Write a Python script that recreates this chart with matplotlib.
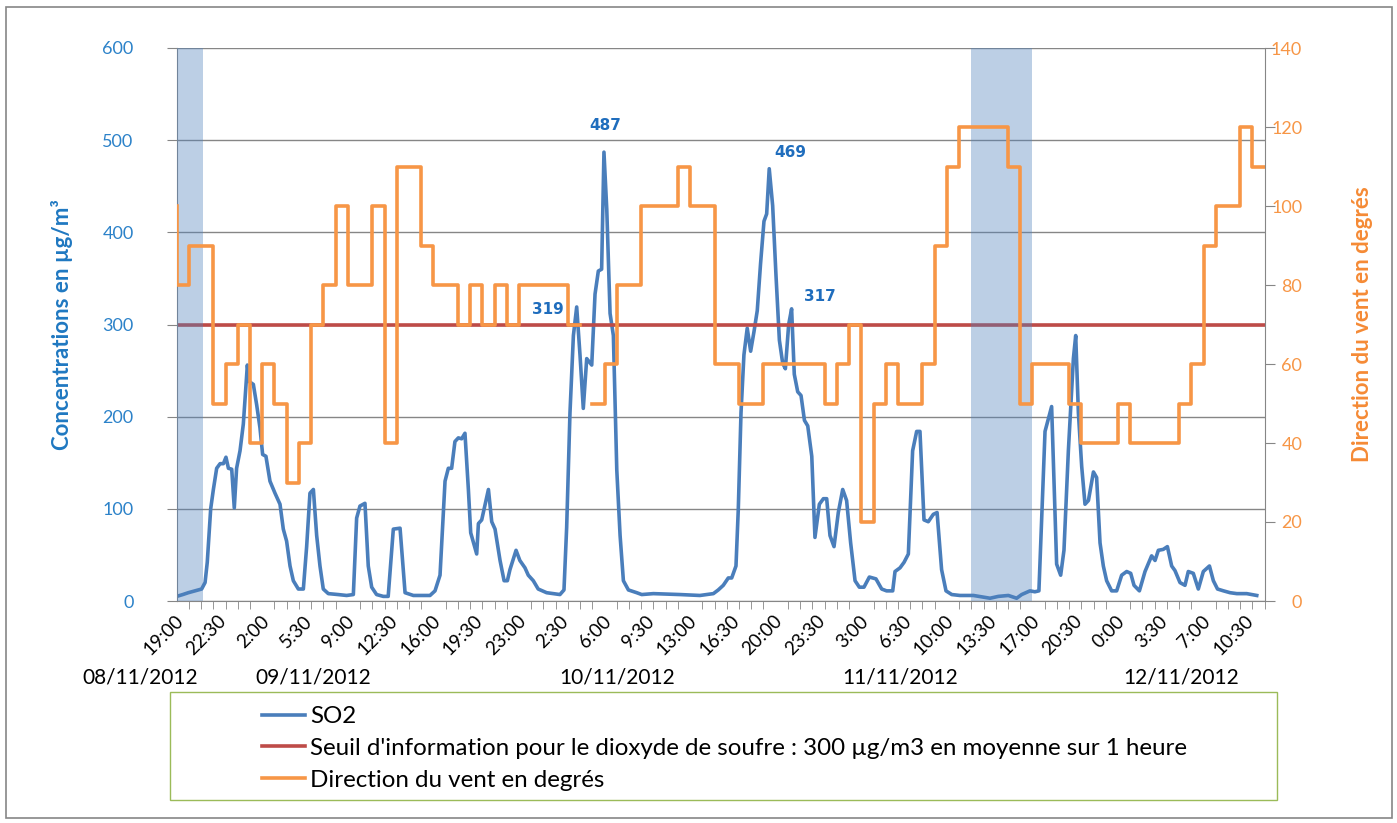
import numpy as np
import matplotlib.pyplot as plt
import matplotlib.transforms as mtransforms
from matplotlib.patches import Rectangle

plt.rcParams['font.family'] = ['Lato', 'DejaVu Sans']

# temps en heures depuis le 08/11/2012 19:00 (mesures SO2)
so2_h = [0.0, 0.5, 0.95, 1.5, 2.04, 2.32, 2.5, 2.78, 3.0, 3.27, 3.55, 3.82, 4.03, 4.23, 4.5, 4.71,
         4.9, 5.18, 5.45, 5.78, 5.94, 6.27, 6.54, 6.81, 7.03, 7.3, 7.63, 8.04, 8.45, 8.72, 8.99,
         9.27, 9.54, 9.95, 10.36, 10.63, 10.9, 11.18, 11.45, 11.72, 11.99, 12.4, 13.2, 13.9, 14.45,
         14.72, 14.99, 15.4, 15.67, 15.95, 16.35, 16.9, 17.3, 17.72, 18.27, 18.68, 19.36, 20.72,
         21.13, 21.54, 21.95, 22.22, 22.49, 22.76, 23.04, 23.31, 23.58, 23.86, 24.05, 24.54, 24.68,
         24.95, 25.5, 25.77, 26.04, 26.45, 26.78, 27.05, 27.26, 27.76, 28.07, 28.49, 28.76, 29.17,
         29.57, 30.26, 30.81, 31.35, 31.68, 31.9, 32.17, 32.45, 32.72, 32.99, 33.26, 33.54, 33.95,
         34.22, 34.49, 34.76, 34.95, 35.18, 35.45, 35.72, 36.0, 36.27, 36.54, 36.95, 37.63, 38.04,
         38.99, 41.17, 42.8, 43.9, 44.3, 44.71, 45.12, 45.4, 45.75, 45.94, 46.16, 46.4, 46.67,
         46.95, 47.22, 47.49, 47.76, 48.04, 48.26, 48.47, 48.75, 49.02, 49.3, 49.57, 49.79, 50.06,
         50.3, 50.52, 50.8, 51.07, 51.35, 51.62, 51.95, 52.21, 52.57, 52.9, 53.17, 53.44, 53.77,
         54.12, 54.48, 54.8, 55.13, 55.49, 55.84, 56.22, 56.66, 57.2, 57.67, 58.07, 58.57, 58.76,
         59.17, 59.5, 59.85, 60.2, 60.53, 60.8, 61.13, 61.48, 61.89, 62.2, 62.57, 62.93, 63.4,
         64.07, 65.17, 66.53, 67.21, 68.03, 68.71, 69.12, 69.8, 70.2, 70.53, 71.03, 71.57, 71.98,
         72.31, 72.58, 72.94, 73.35, 73.54, 73.76, 74.03, 74.3, 74.58, 74.99, 75.25, 75.53, 75.8,
         76.07, 76.48, 76.89, 77.3, 77.71, 78.04, 78.31, 78.75, 79.21, 79.75, 80.03, 80.3, 80.7,
         81.04, 81.39, 81.66, 82.07, 82.48, 82.75, 83.16, 83.57, 83.98, 84.48, 84.8, 85.14, 85.63,
         86.17, 86.72, 87.53, 87.94, 88.35]
so2 = [5, 7, 9, 11, 13, 20, 42, 100, 121, 144, 149, 149, 156, 144, 143, 101,
       144, 163, 192, 256, 238, 235, 213, 188, 159, 157, 130, 117, 105, 78, 65,
       38, 22, 13, 13, 59, 117, 121, 71, 38, 13, 8, 7, 6, 7,
       90, 103, 106, 38, 15, 7, 5, 5, 78, 79, 9, 6, 6,
       11, 28, 130, 144, 144, 173, 177, 176, 182, 121, 74, 51, 84,
       88, 121, 86, 78, 44, 22, 22, 34, 55, 44, 36, 28, 22,
       13, 9, 8, 7, 12, 80, 204, 288, 319, 267, 209, 263, 256,
       333, 358, 360, 487, 425, 312, 288, 142, 71, 22, 12, 9, 7,
       8, 7, 6, 8, 12, 17, 25, 25, 38, 100, 204, 267, 296,
       271, 292, 315, 366, 412, 420, 469, 429, 354, 283, 258, 252, 300,
       317, 246, 227, 223, 196, 190, 157, 69, 105, 111, 111, 71, 59,
       96, 121, 109, 63, 22, 15, 15, 26, 24, 13, 11, 11, 32,
       36, 42, 51, 163, 184, 184, 88, 86, 94, 96, 34, 11, 7,
       6, 6, 3, 5, 6, 3, 7, 11, 10, 11, 184, 211, 40,
       28, 55, 163, 263, 288, 204, 146, 105, 109, 140, 134, 63, 38,
       22, 11, 11, 28, 32, 30, 17, 11, 32, 49, 44, 55, 56,
       59, 38, 33, 20, 17, 32, 30, 13, 32, 38, 22, 13, 11,
       9, 8, 8, 7, 6]

# direction du vent, valeur horaire a partir du 08/11/2012 19:00
vent = [100, 80, 90, 90, 50, 60, 70, 40, 60, 50, 30, 40, 70, 80, 100, 80, 80, 100, 40, 110,
        110, 90, 80, 80, 70, 80, 70, 80, 70, 80, 80, 80, 80, 70, np.nan, 50, 60, 80, 80, 100,
        100, 100, 110, 100, 100, 60, 60, 50, 50, 60, 60, 60, 60, 60, 50, 60, 70, 20, 50, 60,
        50, 50, 60, 90, 110, 120, 120, 120, 120, 110, 50, 60, 60, 60, 50, 40, 40, 40, 50, 40,
        40, 40, 40, 50, 60, 90, 100, 100, 120, 110]

seuil = 300
pics = [319, 487, 469, 317]

heures_labels = ["19:00", "22:30", "2:00", "5:30", "9:00", "12:30", "16:00", "19:30", "23:00",
                 "2:30", "6:00", "9:30", "13:00", "16:30", "20:00", "23:30", "3:00", "6:30",
                 "10:00", "13:30", "17:00", "20:30", "0:00", "3:30", "7:00", "10:30"]
dates = ["08/11/2012", "09/11/2012", "10/11/2012", "11/11/2012", "12/11/2012"]
dates_pos = [-3.0, 11.2, 36.0, 59.2, 82.2]
zones = [(0, 2.17), (65, 70)]

bleu = '#4a7ebb'
rouge = '#be4b48'
orange = '#f79646'
gris = '#868686'
bleu_txt = '#2c82c9'

fig = plt.figure(figsize=(13.97, 8.23), dpi=100)
W, H = 1397, 823
ax = fig.add_axes([176.7 / W, 1 - 601 / H, 1088 / W, 553 / H])

l1, = ax.plot(so2_h, so2, color=bleu, lw=2.6, solid_joinstyle='round', label='SO2')
l2 = ax.axhline(seuil, color=rouge, lw=2.6,
                label="Seuil d'information pour le dioxyde de soufre : 300 µg/m3 en moyenne sur 1 heure")

ax2 = ax.twinx()
l3, = ax2.plot(np.arange(len(vent)), vent, drawstyle='steps-pre', color=orange, lw=2.6,
               label='Direction du vent en degrés')
for a, b in zones:
    ax2.axvspan(a, b, color='#4f81bd', alpha=0.38, lw=0)

ax.set_xlim(0, len(vent) - 1)
ax.set_ylim(0, 600)
ax2.set_ylim(0, 140)
ax.set_yticks(np.arange(0, 601, 100))
ax2.set_yticks(np.arange(0, 141, 20))
ax.set_xticks(np.arange(len(heures_labels)) * 3.5)
ax.set_xticklabels(heures_labels, rotation=45, rotation_mode='anchor', ha='right', va='center',
                   fontsize=13.5)
ax.set_xticks(np.arange(len(vent)), minor=True)
ax.tick_params(axis='x', which='major', length=0, pad=12.5)
ax.tick_params(axis='x', which='minor', length=6, color=gris, direction='out')
ax.tick_params(axis='y', length=7, color=gris, labelcolor=bleu_txt, labelsize=13, pad=24)
ax2.tick_params(axis='y', length=7, color=gris, labelcolor=orange, labelsize=13, pad=20)
for t in ax2.get_yticklabels():
    t.set_horizontalalignment('right')
decale = mtransforms.ScaledTranslation(0.04, 0, fig.dpi_scale_trans)
for t in ax.get_xticklabels():
    t.set_transform(t.get_transform() + decale)

ax.yaxis.grid(True, color=gris, lw=1)
ax.set_axisbelow(True)
for s in ['top', 'right']:
    ax.spines[s].set_visible(False)
for s in ['left', 'bottom']:
    ax.spines[s].set_color(gris)
for s in ['top', 'left', 'bottom']:
    ax2.spines[s].set_visible(False)
ax2.spines['right'].set_color(gris)

ax.set_ylabel('Concentrations en µg/m³', color='#1f78c1', fontweight='bold', fontsize=16)
ax.yaxis.set_label_coords(-0.0953, 0.5)
ax2.set_ylabel('Direction du vent en degrés', color='#f58a35', fontweight='bold', fontsize=16,
               rotation=90)
ax2.yaxis.set_label_coords(1.0802, 0.5)

# valeurs des pics
decalages = {319: (-21, -2), 487: (1, 19), 469: (15, 12), 317: (20, 9)}
for v in pics:
    i = so2.index(v)
    ax.annotate(str(v), (so2_h[i], v), xytext=decalages[v], textcoords='offset points',
                ha='center', va='center', color='#1f6dbd', fontweight='bold', fontsize=11,
                family='DejaVu Sans')

trans = mtransforms.blended_transform_factory(ax.transData, ax.transAxes)
for d, p in zip(dates, dates_pos):
    ax.text(p, -0.139, d, transform=trans, ha='center', va='center', fontsize=15)

# cadre de la legende et de la figure
fig.patches.append(Rectangle((170 / W, 1 - 800 / H), 1107 / W, 108 / H, transform=fig.transFigure,
                             fill=False, edgecolor='#9bbb59', lw=1))
fig.patches.append(Rectangle((5.5 / W, 1 - 817.5 / H), 1386 / W, 811 / H, transform=fig.transFigure,
                             fill=False, edgecolor=gris, lw=1.2))
fig.legend(handles=[l1, l2, l3], loc='upper left', bbox_to_anchor=(262 / W, 1 - 706 / H),
           frameon=False, fontsize=17.4, handlelength=1.78, handletextpad=0.2,
           borderpad=0, borderaxespad=0, labelspacing=0.45)

fig.savefig('out.png', dpi=100)
